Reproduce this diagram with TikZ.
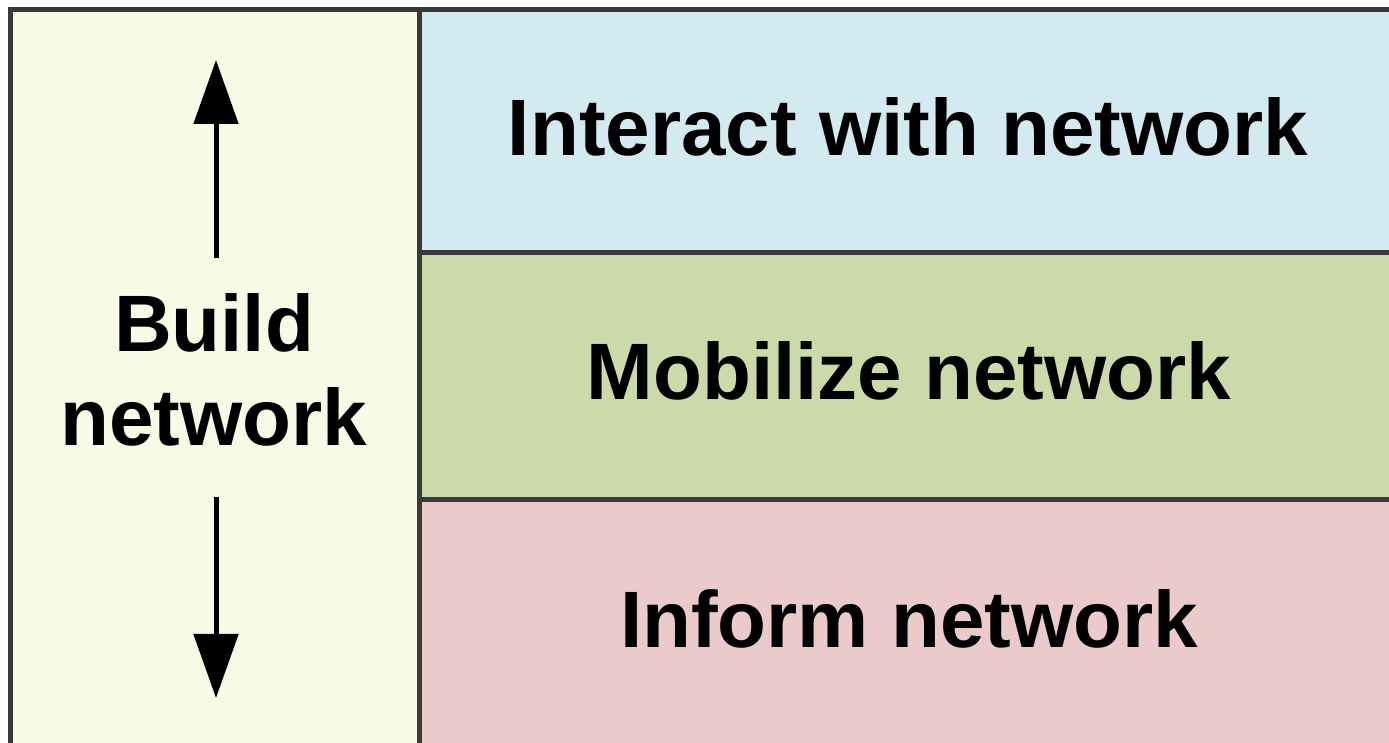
\documentclass[tikz,border=0pt]{standalone}
\usepackage{fontspec}
\setmainfont{Liberation Sans}
\usetikzlibrary{arrows.meta}
\definecolor{leftcol}{HTML}{F7FAE4}
\definecolor{bluecol}{HTML}{D2EAF0}
\definecolor{greencol}{HTML}{CBDAA8}
\definecolor{pinkcol}{HTML}{EBCBCA}
\definecolor{edgecol}{HTML}{3A3A3A}
\tikzset{
  cell/.style={draw=edgecol, line width=2.5pt, rectangle, inner sep=0pt, outer sep=0pt, anchor=north west},
  label/.style={font=\fontsize{40pt}{47pt}\selectfont\bfseries, text=black, inner sep=0pt, align=center},
  updown/.style={line width=2.5pt, draw=black, -{Triangle[width=22pt,length=32pt]}}
}
\begin{document}
\begin{tikzpicture}[x=0.5pt,y=-0.5pt]
\useasboundingbox[fill=white] (0,0) rectangle (1389,743);
% cells
\node[cell, fill=leftcol, minimum width=204.5pt, minimum height=400pt] (buildcell) at (10,10) {};
\node[cell, fill=bluecol, minimum width=500pt, minimum height=121.25pt] (interactcell) at (419,10) {};
\node[cell, fill=greencol, minimum width=500pt, minimum height=123.75pt] (mobilizecell) at (419,252.5) {};
\node[cell, fill=pinkcol, minimum width=500pt, minimum height=200pt] (informcell) at (419,500) {};
% texts
\node[label, anchor=base] (interact) at (908,156) {Interact with network};
\node[label, anchor=base] (mobilize) at (909,400) {Mobilize network};
\node[label, anchor=base] (inform) at (909,647) {Inform network};
\node[label] (build) at (214,370) {Build\\network};
% arrows
\coordinate (upstart) at (216,258);
\coordinate (upend) at (216,60);
\coordinate (downstart) at (216,497);
\coordinate (downend) at (216,698);
\draw[updown] (upstart) -- (upend);
\draw[updown] (downstart) -- (downend);
\end{tikzpicture}
\end{document}
